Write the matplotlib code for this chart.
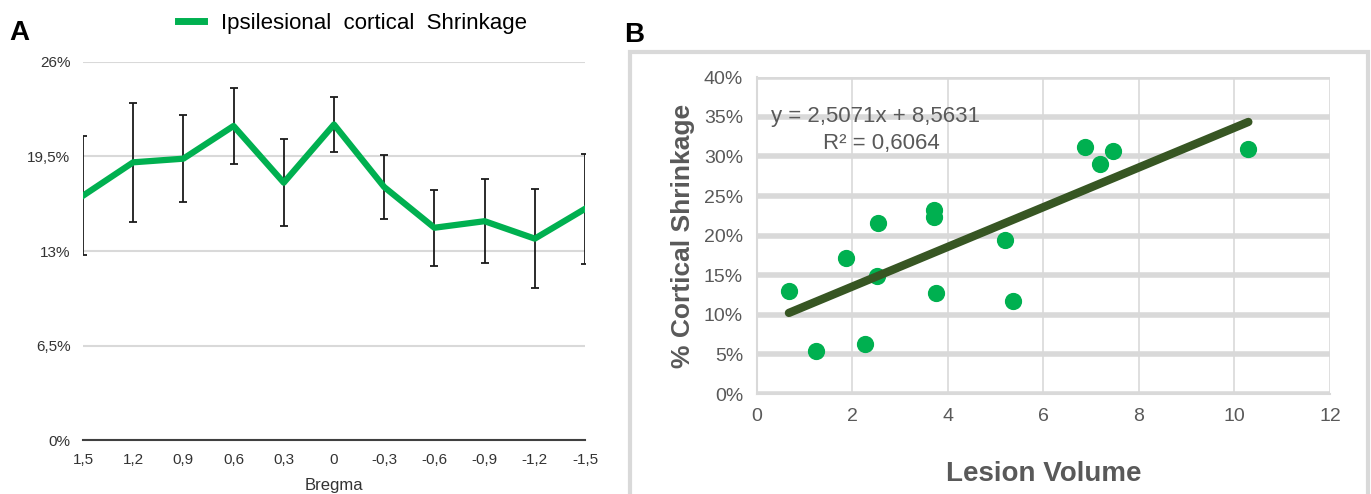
import matplotlib.pyplot as plt
from matplotlib.patches import Rectangle
from matplotlib.lines import Line2D
from matplotlib.ticker import FuncFormatter

# panel A data
bregma = [1.5, 1.2, 0.9, 0.6, 0.3, 0, -0.3, -0.6, -0.9, -1.2, -1.5]
shrink = [16.8, 19.1, 19.35, 21.6, 17.7, 21.7, 17.4, 14.6, 15.05, 13.85, 15.9]
shrink_err = [4.1, 4.1, 3.0, 2.6, 3.0, 1.9, 2.2, 2.6, 2.9, 3.4, 3.8]
a_ticks = [0, 6.5, 13, 19.5, 26]
a_ticklabels = ["0%", "6,5%", "13%", "19,5%", "26%"]

# panel B data
lesion_vol = [0.67, 1.23, 1.87, 2.27, 2.51, 2.54, 3.71, 3.71, 3.74, 5.2, 5.36, 6.88, 7.19, 7.45, 10.29]
cort_shrink = [13.05, 5.4, 17.2, 6.3, 14.9, 21.6, 23.3, 22.4, 12.8, 19.4, 11.7, 31.2, 29.1, 30.7, 30.95]
slope = 2.5071
intercept = 8.5631

green = "#00B050"
dark = "#375623"
grey_txt = "#595959"
font = "Liberation Sans"

fig = plt.figure(figsize=(13.71, 4.94), dpi=100)

# ---- panel A ----
ax1 = fig.add_axes([0.0605, 0.1093, 0.3662, 0.7652])
ax1.errorbar(bregma, shrink, yerr=shrink_err, color=green, lw=4.5,
             ecolor="#1a1a1a", elinewidth=1.3, capsize=3, capthick=1.3, zorder=3)
ax1.set_xlim(1.5, -1.5)
ax1.set_ylim(0, 26)
ax1.set_yticks(a_ticks)
ax1.set_yticklabels(a_ticklabels, fontsize=11, color="#333333", family=font)
ax1.set_xticks(bregma)
ax1.set_xticklabels([str(b).replace(".", ",") for b in bregma],
                    fontsize=11, color="#333333", family=font)
ax1.grid(axis="y", color="#d9d9d9", lw=1.5)
ax1.set_axisbelow(True)
for s in ["top", "right", "left"]:
    ax1.spines[s].set_visible(False)
ax1.spines["bottom"].set_color("#404040")
ax1.spines["bottom"].set_linewidth(1.5)
ax1.spines["bottom"].set_zorder(4)
ax1.tick_params(length=0, pad=9)
ax1.set_xlabel("Bregma", fontsize=12, color="#333333", family=font, labelpad=8)
handle = Line2D([], [], color=green, lw=5)
leg = fig.legend([handle], ["Ipsilesional  cortical  Shrinkage"], loc="center left",
                 bbox_to_anchor=(0.115, 0.953), frameon=False, handlelength=1.2,
                 handletextpad=0.75, prop={"family": font, "size": 16})
fig.text(0.007, 0.92, "A", fontsize=20, fontweight="bold", family=font)

# ---- panel B ----
fig.patches.append(Rectangle((0.4595, -0.01), 0.538, 0.905, transform=fig.transFigure,
                             fill=False, edgecolor="#d9d9d9", lw=3))
ax2 = fig.add_axes([0.5521, 0.2024, 0.418, 0.6411])
ax2.scatter(lesion_vol, cort_shrink, s=130, color=green, zorder=3)
xs = [min(lesion_vol), max(lesion_vol)]
ax2.plot(xs, [slope * x + intercept for x in xs], color=dark, lw=6, zorder=4,
         solid_capstyle="round")
ax2.set_xlim(0, 12)
ax2.set_ylim(0, 40)
ax2.set_xticks(range(0, 13, 2))
ax2.set_yticks(range(0, 41, 5))
ax2.yaxis.set_major_formatter(FuncFormatter(lambda v, p: f"{int(v)}%"))
for lab in ax2.get_xticklabels() + ax2.get_yticklabels():
    lab.set_family(font)
    lab.set_fontsize(14)
    lab.set_color(grey_txt)
ax2.grid(axis="y", color="#d9d9d9", lw=4)
ax2.grid(axis="x", color="#d9d9d9", lw=1.2)
ax2.set_axisbelow(True)
for s in ["top", "right"]:
    ax2.spines[s].set_visible(False)
for s in ["left", "bottom"]:
    ax2.spines[s].set_color("#d9d9d9")
    ax2.spines[s].set_linewidth(1.5)
ax2.tick_params(length=0, pad=10)
ax2.set_xlabel("Lesion Volume", fontsize=20, fontweight="bold", color=grey_txt,
               family=font, labelpad=26)
ax2.set_ylabel("% Cortical Shrinkage", fontsize=19, fontweight="bold", color=grey_txt,
               family=font, labelpad=6)
ax2.text(0.3, 35.1, "y = 2,5071x + 8,5631", fontsize=16, color=grey_txt,
         family=font, va="center")
ax2.text(1.38, 31.6, "R² = 0,6064", fontsize=16, color=grey_txt,
         family=font, va="center")
fig.text(0.455, 0.915, "B", fontsize=20, fontweight="bold", family=font)

fig.savefig("out.png", dpi=100)
